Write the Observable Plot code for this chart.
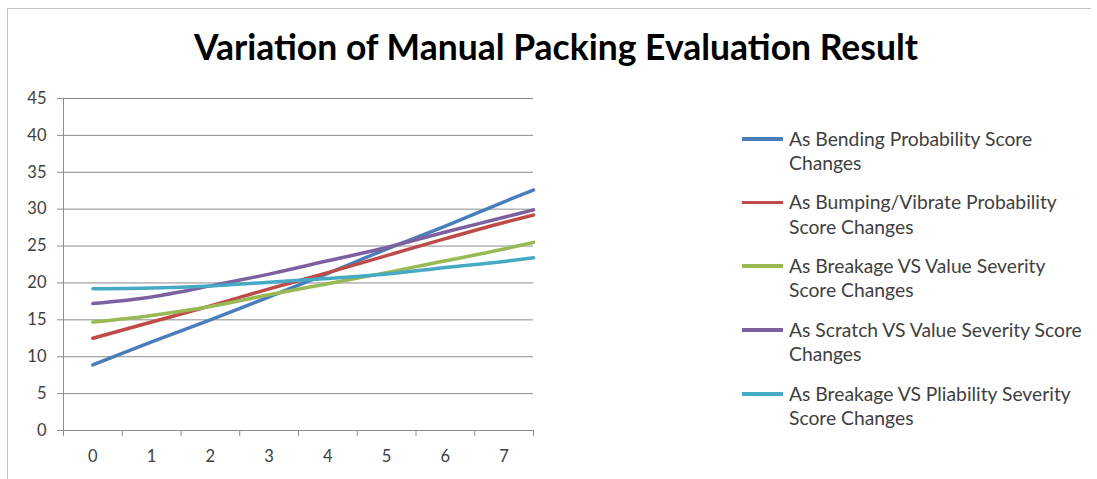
<!DOCTYPE html>
<html>
<head>
<meta charset="utf-8">
<script src="https://cdn.jsdelivr.net/npm/d3@7"></script>
<script src="https://cdn.jsdelivr.net/npm/@observablehq/plot@0.6"></script>
<style>
  html, body { margin: 0; padding: 0; background: #fff; }
  #frame { position: relative; width: 1097px; height: 479px; overflow: hidden; background: #fff; font-family: Lato, "Open Sans", sans-serif; }
  #border { position: absolute; left: 7px; top: 8px; width: 1083px; height: 520px; border-top: 1.5px solid #c4c4c4; border-left: 1.5px solid #c4c4c4; }
  #title { position: absolute; left: 0; top: 25px; width: 1112px; text-align: center; font-size: 35.5px; font-weight: bold; color: #000; }
  #chart { position: absolute; left: 0; top: 80px; }
  #legend { position: absolute; left: 742px; top: 0; }
  .entry { position: absolute; left: 0; width: 360px; }
  .sw { position: absolute; left: 0; width: 41px; height: 3.5px; }
  .txt { position: absolute; left: 47px; font-size: 19.3px; line-height: 24.5px; color: #404040; white-space: nowrap; }
</style>
</head>
<body>
<div id="frame">
  <div id="border"></div>
  <div id="title"></div>
  <div id="chart"></div>
  <div id="legend"></div>
</div>
<script>
const titleText = "Variation of Manual Packing Evaluation Result";
const xValues = [0, 1, 2, 3, 4, 5, 6, 7, 7.5];
const xLabels = [0, 1, 2, 3, 4, 5, 6, 7];
const yTicks = [0, 5, 10, 15, 20, 25, 30, 35, 40, 45];
const seriesNames = [
  "As Bending Probability Score Changes",
  "As Bumping/Vibrate Probability Score Changes",
  "As Breakage VS Value Severity Score Changes",
  "As Scratch VS Value Severity Score Changes",
  "As Breakage VS Pliability Severity Score Changes"
];
const legendLines = [
  ["As Bending Probability Score", "Changes"],
  ["As Bumping/Vibrate Probability", "Score Changes"],
  ["As Breakage VS Value Severity", "Score Changes"],
  ["As Scratch VS Value Severity Score", "Changes"],
  ["As Breakage VS Pliability Severity", "Score Changes"]
];
const seriesColors = ["#4A7EBB", "#BE4B48", "#98B954", "#7D60A0", "#46AAC5"];
const bending  = [8.9, 12.0, 15.0, 18.1, 21.3, 24.6, 27.7, 31.0, 32.6];
const bumping  = [12.5, 14.7, 16.9, 19.2, 21.4, 23.7, 26.0, 28.2, 29.2];
const breakVal = [14.7, 15.6, 16.8, 18.4, 19.9, 21.4, 23.0, 24.6, 25.5];
const scratch  = [17.2, 18.1, 19.6, 21.2, 23.0, 24.8, 26.9, 28.9, 29.9];
const breakPli = [19.2, 19.3, 19.6, 20.1, 20.6, 21.2, 22.1, 22.9, 23.4];
const seriesValues = [bending, bumping, breakVal, scratch, breakPli];

const rows = [];
seriesValues.forEach((vals, i) => {
  vals.forEach((v, j) => rows.push({series: seriesNames[i], x: xValues[j], y: v}));
});

const bandEdges = d3.range(-0.5, 8, 1);
const grid = "#8c8c8c";

document.getElementById("title").textContent = titleText;

const chart = Plot.plot({
  width: 560,
  height: 399,
  marginLeft: 63,
  marginRight: 27,
  marginTop: 18,
  marginBottom: 49,
  x: {domain: [-0.5, 7.5]},
  y: {domain: [0, 45]},
  color: {domain: seriesNames, range: seriesColors},
  style: {fontFamily: "Lato, 'Open Sans', sans-serif", fontSize: "16.5px", color: "#404040", background: "transparent", overflow: "visible"},
  marks: [
    Plot.gridY(yTicks, {stroke: grid, strokeOpacity: 1, strokeWidth: 1}),
    Plot.ruleX([-0.5], {stroke: grid, strokeWidth: 1}),
    Plot.axisY(yTicks, {tickSize: 6, tickPadding: 11, stroke: grid, fill: "#404040", label: null}),
    Plot.axisX(bandEdges, {tickSize: 6, tickFormat: () => "", stroke: grid, label: null}),
    Plot.axisX(xLabels, {tickSize: 0, tickPadding: 20, fill: "#404040", label: null}),
    Plot.line(rows, {x: "x", y: "y", z: "series", stroke: "series", strokeWidth: 3.5, curve: "monotone-x"})
  ]
});
document.getElementById("chart").appendChild(chart);

const legend = document.getElementById("legend");
const firstLineCenters = [139, 202.5, 266, 330, 394];
legendLines.forEach((lines, i) => {
  const e = document.createElement("div");
  e.className = "entry";
  e.style.top = (firstLineCenters[i] - 12.25) + "px";
  const sw = document.createElement("div");
  sw.className = "sw";
  sw.style.background = seriesColors[i];
  sw.style.top = (12.25 - 1.75) + "px";
  const t = document.createElement("div");
  t.className = "txt";
  t.innerHTML = lines.join("<br>");
  e.appendChild(sw);
  e.appendChild(t);
  legend.appendChild(e);
});
</script>
</body>
</html>
